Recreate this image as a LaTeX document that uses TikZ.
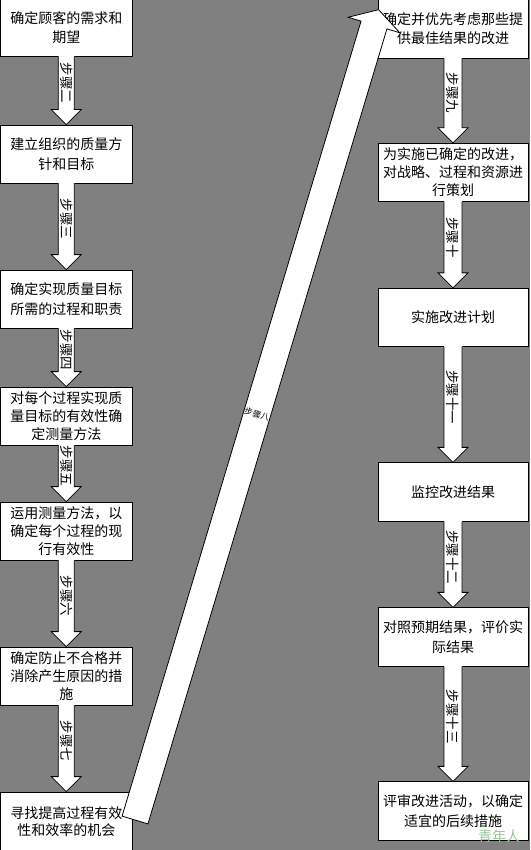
\documentclass[tikz,border=0pt]{standalone}
\usepackage{fontspec}
\setmainfont{Noto Sans CJK SC}
\usetikzlibrary{calc}
\tikzset{
  box/.style={draw=black, fill=white, line width=0.8pt, inner sep=0pt, align=center,
    font=\fontsize{14}{19.5}\selectfont},
  lbox/.style={box, minimum width=131.5pt, minimum height=58pt},
  rbox/.style={box, minimum width=150pt, minimum height=58.5pt},
  arrline/.style={draw=black, line width=0.8pt, line join=miter},
  vlab/.style={rotate=-90, inner sep=0pt, font=\fontsize{13.5}{13.5}\selectfont},
  dlab/.style={rotate=-17, inner sep=0pt, font=\fontsize{8.5}{8.5}\selectfont},
  wmark/.style={inner sep=0pt, text={rgb,255:red,150;green,200;blue,150}, font=\fontsize{14}{14}\selectfont},
}
\newcommand\varrow[4]{%
  \fill[white] ($(#1.south)+(-#3,-1)$) -- ($(#2.north)+(-#3,-15)$) -- ($(#2.north)+(-15,-15)$)
    -- (#2.north) -- ($(#2.north)+(15,-15)$) -- ($(#2.north)+(#3,-15)$) -- ($(#1.south)+(#3,-1)$) -- cycle;
  \draw[arrline] ($(#1.south)+(-#3,0)$) -- ($(#2.north)+(-#3,-15)$) -- ($(#2.north)+(-15,-15)$)
    -- (#2.north) -- ($(#2.north)+(15,-15)$) -- ($(#2.north)+(#3,-15)$) -- ($(#1.south)+(#3,0)$);
  \node[vlab] (lab#1) at ($(#1.south)!0.5!(#2.north)+(0,-7.5)$) {#4};
}
\begin{document}
\begin{tikzpicture}[x=1pt,y=-1pt]
\useasboundingbox (0,0) rectangle (530,850);
\fill[fill={rgb,255:red,128;green,128;blue,128}] (0,0) rectangle (530,850);
\clip (0,0) rectangle (530,850);

% left column
\node[lbox, minimum height=57pt] (b1) at (66.25,27.5) {确定顾客的需求和\\期望};
\node[lbox] (b2) at (66.25,154) {建立组织的质量方\\针和目标};
\node[lbox] (b3) at (66.25,299) {确定实现质量目标\\所需的过程和职责};
\node[lbox, font=\fontsize{14}{18}\selectfont] (b4) at (66.25,416) {对每个过程实现质\\量目标的有效性确\\定测量方法};
\node[lbox, font=\fontsize{14}{18}\selectfont] (b5) at (66.25,531) {运用测量方法，以\\确定每个过程的现\\行有效性};
\node[lbox, font=\fontsize{14}{18}\selectfont] (b6) at (66.25,676) {确定防止不合格并\\消除产生原因的措\\施};
\node[lbox, minimum height=59pt, font=\fontsize{14}{17}\selectfont] (b7) at (66.25,821.5) {寻找提高过程有效\\性和效率的机会};

% right column
\node[rbox, minimum height=59pt] (r1) at (453,28.5) {确定并优先考虑那些提\\供最佳结果的改进};
\node[rbox, font=\fontsize{14}{18}\selectfont] (r2) at (453,172.5) {为实施已确定的改进，\\对战略、过程和资源进\\行策划};
\node[rbox] (r3) at (453,317.5) {实施改进计划};
\node[rbox] (r4) at (453,492) {监控改进结果};
\node[rbox] (r5) at (453,637) {对照预期结果，评价实\\际结果};
\node[rbox] (r6) at (453,811) {评审改进活动，以确定\\适宜的后续措施};

% vertical block arrows
\varrow{b1}{b2}{8}{步骤二}
\varrow{b2}{b3}{8}{步骤三}
\varrow{b3}{b4}{8}{步骤四}
\varrow{b4}{b5}{8}{步骤五}
\varrow{b5}{b6}{8}{步骤六}
\varrow{b6}{b7}{8}{步骤七}
\varrow{r1}{r2}{9}{步骤九}
\varrow{r2}{r3}{9}{步骤十}
\varrow{r3}{r4}{9}{步骤十一}
\varrow{r4}{r5}{9}{步骤十二}
\varrow{r5}{r6}{9}{步骤十三}

% diagonal block arrow from b7 to r1
\coordinate (dA) at (135,820);
\coordinate (dT) at (378.6,9.7);
\coordinate (dH) at ($(dT)!16pt!(dA)$);
\coordinate (dL0) at ($(dA)!13.5pt!90:(dH)$);
\coordinate (dR0) at ($(dA)!13.5pt!-90:(dH)$);
\coordinate (dL1) at ($(dH)!13.5pt!-90:(dA)$);
\coordinate (dR1) at ($(dH)!13.5pt!90:(dA)$);
\coordinate (dLB) at ($(dH)!27pt!-90:(dA)$);
\coordinate (dRB) at ($(dH)!27pt!90:(dA)$);
\draw[arrline, fill=white] (dL0) -- (dL1) -- (dLB) -- (dT) -- (dRB) -- (dR1) -- (dR0) -- cycle;
\node[dlab] (lab8) at ($(dA)!0.51!(dH)$) {步骤八};

% watermark
\node[wmark] (wm) at (499,836) {青年人};
\end{tikzpicture}
\end{document}
